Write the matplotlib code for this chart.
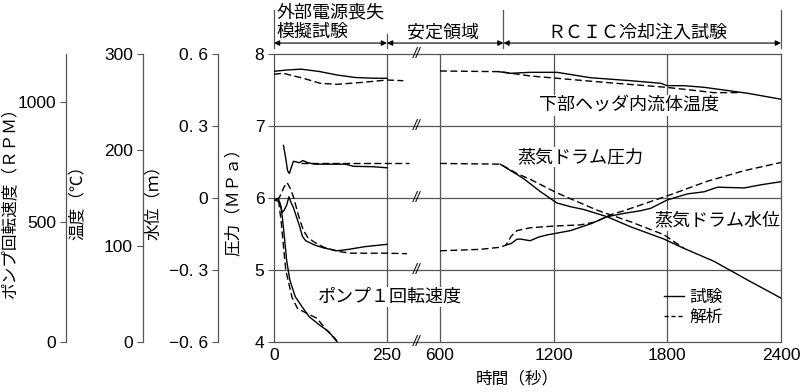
import numpy as np
import matplotlib.pyplot as plt
from matplotlib.lines import Line2D

plt.rcParams['font.family'] = ['Noto Sans CJK JP', 'DejaVu Sans']
num_font = ['Liberation Sans Narrow', 'Liberation Sans', 'DejaVu Sans']

# broken time axis: 0-250 s test, compressed stable region, 600-2400 s RCIC
t_breaks = [0, 250, 600, 2400]
u_breaks = [0, 113, 166, 507]

# lower header fluid temperature (C)
temp_test_t1 = [0, 30, 60, 100, 140, 180, 220, 250]
temp_test_v1 = [282, 283.4, 284.2, 281.8, 278.1, 275.5, 274.8, 274.7]
temp_calc_t1 = [0, 20, 65, 102, 139, 197, 250, 358]
temp_calc_v1 = [278.9, 279.9, 274.7, 269.5, 268.4, 270.5, 272.9, 272.2]
temp_test_t2 = [910, 971, 1076, 1218, 1394, 1606, 1765, 1800, 1888, 1994, 2224, 2400]
temp_test_v2 = [281.6, 279.9, 280.9, 280.9, 275.3, 272.2, 269.5, 267, 267, 265.3, 259.1, 252.9]
temp_calc_t2 = [600, 918, 1076, 1218, 1430, 1641, 1782, 1924, 2047, 2180]
temp_calc_v2 = [282.3, 281.6, 277.1, 274.7, 271.1, 267.7, 265.5, 262.5, 259.7, 259.8]

# steam drum pressure (MPa)
press_test_t1 = [21, 26, 30, 34, 38, 43, 50, 56, 64, 75, 90, 120, 158, 176, 217, 250]
press_test_v1 = [6.73, 6.55, 6.38, 6.34, 6.42, 6.51, 6.50, 6.49, 6.52, 6.49, 6.47, 6.47, 6.47, 6.44, 6.435, 6.42]
press_calc_t1 = [60, 150, 250, 393]
press_calc_v1 = [6.48, 6.48, 6.48, 6.48]
press_test_t2 = [918, 1041, 1129, 1218, 1288, 1359, 1482, 1606, 1782, 1888, 2047, 2224, 2400]
press_test_v2 = [6.47, 6.27, 6.09, 5.93, 5.88, 5.84, 5.74, 5.60, 5.43, 5.30, 5.12, 4.86, 4.61]
press_calc_t2 = [600, 918, 1006, 1076, 1218, 1430, 1606, 1782, 1888]
press_calc_v2 = [6.48, 6.47, 6.34, 6.26, 6.07, 5.83, 5.67, 5.49, 5.30]

# steam drum water level (m)
lvl_test_t1 = [0, 10, 14, 18, 22, 28, 33, 38, 43, 50, 57, 63, 70, 90, 110, 140, 165, 200, 250]
lvl_test_v1 = [-0.005, -0.005, -0.03, -0.06, -0.052, -0.03, 0.005, -0.02, -0.04, -0.08, -0.12,
               -0.16, -0.178, -0.196, -0.208, -0.22, -0.214, -0.203, -0.193]
lvl_calc_t1 = [5, 10, 14, 22, 29, 36, 43, 55, 65, 75, 90, 110, 140, 170, 250, 382]
lvl_calc_v1 = [-0.005, -0.002, 0.01, 0.045, 0.064, 0.04, 0.005, -0.078, -0.135, -0.165, -0.185,
               -0.205, -0.222, -0.23, -0.23, -0.232]
lvl_test_t2 = [948, 975, 1006, 1024, 1076, 1120, 1165, 1288, 1394, 1482, 1571, 1659, 1712, 1800,
               1906, 1994, 2065, 2206, 2294, 2400]
lvl_test_v2 = [-0.196, -0.19, -0.172, -0.171, -0.178, -0.163, -0.154, -0.136, -0.108, -0.078,
               -0.064, -0.053, -0.043, -0.008, 0.017, 0.026, 0.045, 0.042, 0.055, 0.068]
lvl_calc_t2 = [600, 812, 920, 948, 975, 1006, 1076, 1200, 1341, 1420, 1500, 1571, 1800, 2012, 2206, 2400]
lvl_calc_v2 = [-0.22, -0.214, -0.205, -0.196, -0.16, -0.136, -0.124, -0.117, -0.112, -0.1, -0.07,
               -0.053, 0.009, 0.07, 0.114, 0.148]

# pump 1 speed (RPM)
pump_test_t = [0, 12, 16, 21, 28, 35, 47, 62, 78, 100, 121, 140]
pump_test_v = [592, 585, 560, 475, 340, 258, 189, 147, 105, 72, 43, 0]
pump_calc_t = [10, 16, 21, 26, 32, 40, 52, 72, 95, 116, 135, 139]
pump_calc_v = [590, 500, 397, 300, 250, 185, 140, 120, 99, 50, 15, 5]

x_ticks = [0, 250, 600, 1200, 1800, 2400]
lvl_ticks = [-0.6, -0.3, 0, 0.3, 0.6]
lvl_labels = ['\u22120. 6', '\u22120. 3', '0', '0. 3', '0. 6']


def fwd(t):
    return np.interp(t, t_breaks, u_breaks)


def inv(u):
    return np.interp(u, u_breaks, t_breaks)


fig = plt.figure(figsize=(8, 3.92), dpi=100)
ax = fig.add_axes([274 / 800, 1 - 342 / 392, 507 / 800, 288 / 392])
ax.set_xscale('function', functions=(fwd, inv))
ax.set_xlim(0, 2400)
ax.set_ylim(4, 8)

gcol = '#555555'
tsize = 12.5
for s in ax.spines.values():
    s.set_color(gcol)
    s.set_linewidth(0.9)
for t in [250, 600, 1200, 1800]:
    ax.axvline(t, color=gcol, lw=0.9, zorder=1)
for p in [5, 6, 7]:
    ax.axhline(p, color=gcol, lw=0.9, zorder=1)
# break marks
for p in [4, 5, 6, 7, 8]:
    ax.text(448, p, '//', ha='center', va='center', fontsize=10, style='italic',
            family=num_font, clip_on=False, zorder=3)

ax.set_xticks(x_ticks)
ax.set_xticklabels([str(t) for t in x_ticks])
ax.tick_params(axis='x', length=0, pad=4, labelsize=tsize, labelfontfamily=num_font)
ax.set_yticks([4, 5, 6, 7, 8])
ax.tick_params(axis='y', length=4, color=gcol, pad=3, labelsize=tsize, labelfontfamily=num_font)
ax.set_ylabel('圧力（ＭＰａ）', fontsize=12)
ax.yaxis.set_label_coords(-0.063, 0.5)
ax.set_xlabel('時間（秒）', fontsize=12)
ax.xaxis.set_label_coords(0.48, -0.1)


def side_axis(pos, lo, hi, ticks, label, lab_x):
    a = ax.twinx()
    a.set_ylim(lo, hi)
    a.yaxis.set_ticks_position('left')
    a.yaxis.set_label_position('left')
    for k in ['top', 'right', 'bottom']:
        a.spines[k].set_visible(False)
    a.spines['left'].set_visible(True)
    a.spines['left'].set_position(('axes', pos))
    a.spines['left'].set_color(gcol)
    a.spines['left'].set_linewidth(0.9)
    a.set_yticks(ticks)
    a.tick_params(axis='y', length=4, color=gcol, pad=3, labelsize=tsize, labelfontfamily=num_font)
    a.set_ylabel(label, fontsize=12)
    a.yaxis.set_label_coords(lab_x, 0.5)
    return a


ax_lvl = side_axis(-0.111, -0.6, 0.6, lvl_ticks, '水位（ｍ）', -0.221)
ax_lvl.set_yticklabels(lvl_labels)
ax_tmp = side_axis(-0.259, 0, 300, [0, 100, 200, 300], '温度（℃）', -0.369)
ax_rpm = side_axis(-0.411, 0, 1200, [0, 500, 1000], 'ポンプ回転速度（ＲＰＭ）', -0.503)

lw = 1.0
dash = (0, (5, 2.5))
ax_tmp.plot(temp_test_t1, temp_test_v1, 'k-', lw=lw)
ax_tmp.plot(temp_test_t2, temp_test_v2, 'k-', lw=lw)
ax_tmp.plot(temp_calc_t1, temp_calc_v1, 'k', ls=dash, lw=lw)
ax_tmp.plot(temp_calc_t2, temp_calc_v2, 'k', ls=dash, lw=lw)

ax.plot(press_test_t1, press_test_v1, 'k-', lw=lw, zorder=4)
ax.plot(press_test_t2, press_test_v2, 'k-', lw=lw, zorder=4)
ax.plot(press_calc_t1, press_calc_v1, 'k', ls=dash, lw=lw, zorder=4)
ax.plot(press_calc_t2, press_calc_v2, 'k', ls=dash, lw=lw, zorder=4)

ax_lvl.plot(lvl_test_t1, lvl_test_v1, 'k-', lw=lw)
ax_lvl.plot(lvl_test_t2, lvl_test_v2, 'k-', lw=lw)
ax_lvl.plot(lvl_calc_t1, lvl_calc_v1, 'k', ls=dash, lw=lw)
ax_lvl.plot(lvl_calc_t2, lvl_calc_v2, 'k', ls=dash, lw=lw)

ax_rpm.plot(pump_test_t, pump_test_v, 'k-', lw=lw)
ax_rpm.plot(pump_calc_t, pump_calc_v, 'k', ls=dash, lw=lw)

# curve names
box = dict(fc='white', ec='none', pad=1)
ax.text(1598, 7.29, '下部ヘッダ内流体温度', fontsize=13, ha='center', va='center', bbox=box, zorder=5)
ax.text(1339, 6.57, '蒸気ドラム圧力', fontsize=13, ha='center', va='center', bbox=box, zorder=5)
ax.text(2062, 5.69, '蒸気ドラム水位', fontsize=13, ha='center', va='center', bbox=box, zorder=5)
ax.text(266, 4.625, 'ポンプ１回転速度', fontsize=13, ha='center', va='center', bbox=box, zorder=5)

handles = [Line2D([], [], color='k', lw=lw), Line2D([], [], color='k', lw=lw, ls=(0, (3, 2)))]
ax.legend(handles, ['試験', '解析'], loc='upper left', bbox_to_anchor=(0.77, 0.185), frameon=False,
          fontsize=12, handlelength=1.2, handletextpad=0.3, labelspacing=0.2, borderpad=0,
          borderaxespad=0)

# phase header
tr = ax.get_xaxis_transform()
arr = dict(arrowstyle='<|-|>', color='k', lw=0.8, mutation_scale=8, shrinkA=0, shrinkB=0)
for a, b in [(0, 250), (250, 935), (935, 2400)]:
    ax.annotate('', xy=(a, 1.038), xytext=(b, 1.038), xycoords=tr, textcoords=tr, arrowprops=arr)
for t, top in [(0, 1.153), (250, 1.07), (935, 1.153), (2400, 1.153)]:
    ax.plot([t, t], [1.02, top], color=gcol, lw=0.9, transform=tr, clip_on=False)
ax.text(6, 1.146, '外部電源喪失', transform=tr, fontsize=13, ha='left', va='center')
ax.text(6, 1.075, '模擬試験', transform=tr, fontsize=13, ha='left', va='center')
ax.text(615, 1.075, '安定領域', transform=tr, fontsize=13, ha='center', va='center')
ax.text(1640, 1.075, 'ＲＣＩＣ冷却注入試験', transform=tr, fontsize=13, ha='center', va='center')

fig.savefig('out.png', dpi=100)
